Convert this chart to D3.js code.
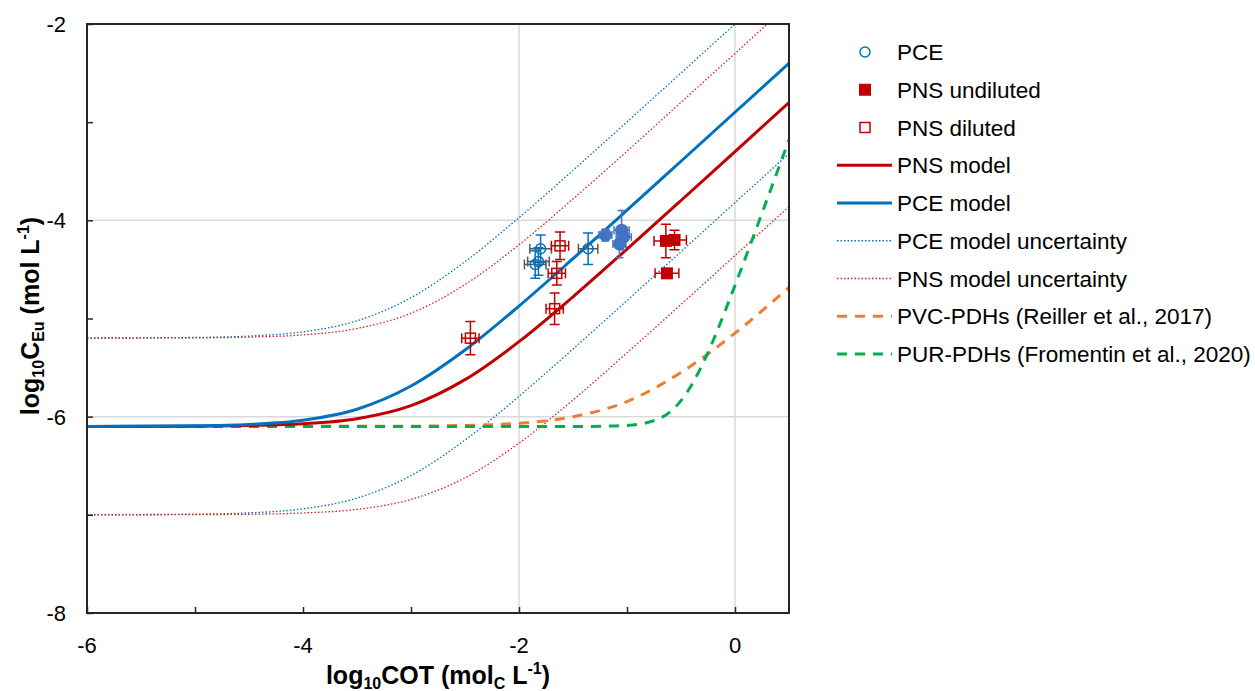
<!DOCTYPE html>
<html>
<head>
<meta charset="utf-8">
<script src="https://cdn.jsdelivr.net/npm/d3@7"></script>
<style>
  body { margin: 0; background: #fff; }
  text { font-family: "Liberation Sans", Arial, sans-serif; }
</style>
</head>
<body>
<div id="chart"></div>
<script>
// ---- data ----
const xTicks = [-6, -4, -2, 0];
const yTicks = [-8, -6, -4, -2];
const xGrid = [-2, 0];
const yGrid = [-6, -4];

// model curves (log10 COT vs log10 C_Eu)
const modelX = [-6, -5, -4.5, -4, -3.5, -3, -2.5, -2, -1.5, -1, -0.5, 0, 0.5];
const pnsModel = [-6.10, -6.097, -6.09, -6.073, -6.021, -5.888, -5.623, -5.236, -4.779, -4.293, -3.798, -3.299, -2.80];
const pceModel = [-6.10, -6.093, -6.079, -6.036, -5.924, -5.688, -5.321, -4.873, -4.391, -3.897, -3.398, -2.899, -2.40];
const pceUpper = [-5.199, -5.193, -5.179, -5.136, -5.024, -4.788, -4.421, -3.973, -3.491, -2.997, -2.499, -2.00, -1.50];
const pnsUpper = [-5.199, -5.197, -5.189, -5.167, -5.102, -4.946, -4.654, -4.249, -3.783, -3.296, -2.798, -2.30, -1.80];
const pceLower = [-6.999, -6.993, -6.98, -6.939, -6.83, -6.60, -6.238, -5.792, -5.311, -4.817, -4.319, -3.82, -3.32];
const pnsLower = [-7.00, -6.998, -6.994, -6.981, -6.944, -6.843, -6.623, -6.27, -5.83, -5.35, -4.857, -4.359, -3.86];
const pvcPdh = [-6.10, -6.10, -6.099, -6.099, -6.098, -6.097, -6.089, -6.067, -6.001, -5.846, -5.55, -5.149, -4.683];

const purX = [-6, -5, -4, -3, -2, -1.5, -1.2, -1, -0.8, -0.6, -0.5, -0.4, -0.3, -0.2, -0.1, 0, 0.1, 0.2, 0.3, 0.4, 0.5];
const purPdh = [-6.10, -6.10, -6.10, -6.10, -6.10, -6.10, -6.097, -6.089, -6.057, -5.95, -5.837, -5.675, -5.465, -5.219, -4.948, -4.663, -4.372, -4.076, -3.778, -3.479, -3.18];

// measured points: [x, y, xErr, yErr]
const pcePts = [[-1.80, -4.29, 0.10, 0.14], [-1.82, -4.42, 0.10, 0.14], [-1.85, -4.45, 0.10, 0.14], [-1.36, -4.29, 0.09, 0.16]];
const pceFilled = [[-1.20, -4.15, 0.06, 0.06], [-1.05, -4.10, 0.07, 0.2], [-1.03, -4.17, 0.07, 0.1], [-1.07, -4.24, 0.06, 0.14]];
const pnsUndiluted = [[-0.64, -4.21, 0.11, 0.17], [-0.56, -4.20, 0.11, 0.1], [-0.63, -4.54, 0.11, 0.04]];
const pnsDiluted = [[-1.62, -4.26, 0.08, 0.14], [-1.65, -4.54, 0.08, 0.12], [-1.67, -4.90, 0.08, 0.16], [-2.45, -5.20, 0.08, 0.17]];

const legendLabels = ["PCE", "PNS undiluted", "PNS diluted", "PNS model", "PCE model",
  "PCE model uncertainty", "PNS model uncertainty", "PVC-PDHs (Reiller et al., 2017)",
  "PUR-PDHs (Fromentin et al., 2020)"];

// ---- layout ----
const W = 1255, H = 691;
const plot = { left: 87, right: 789, top: 24, bottom: 613 };
const RED = "#C00000", BLUE = "#0070C0", LBLUE = "#4472C4", ORANGE = "#ED7D31", GREEN = "#00B050";
const DRED = "#D62020";

const svg = d3.select("#chart").append("svg").attr("width", W).attr("height", H);

const x = d3.scaleLinear().domain([-6, 0.5]).range([plot.left, plot.right]);
const y = d3.scaleLinear().domain([-8, -2]).range([plot.bottom, plot.top]);

svg.append("defs").append("clipPath").attr("id", "clip")
  .append("rect").attr("x", plot.left).attr("y", plot.top)
  .attr("width", plot.right - plot.left).attr("height", plot.bottom - plot.top);

// gridlines
svg.append("g").selectAll("line").data(xGrid)
  .join("line")
  .attr("x1", d => x(d)).attr("x2", d => x(d))
  .attr("y1", plot.top).attr("y2", plot.bottom)
  .attr("stroke", "#d9d9d9").attr("stroke-width", 1.5);
svg.append("g").selectAll("line").data(yGrid)
  .join("line")
  .attr("x1", plot.left).attr("x2", plot.right)
  .attr("y1", d => y(d)).attr("y2", d => y(d))
  .attr("stroke", "#d9d9d9").attr("stroke-width", 1.5);

// curves
const g = svg.append("g").attr("clip-path", "url(#clip)");
const addCurve = (xs, ys, color, width, dash) => {
  const line = d3.line().x((d, i) => x(xs[i])).y(d => y(d)).curve(d3.curveMonotoneX);
  g.append("path").datum(ys)
    .attr("d", line)
    .attr("fill", "none")
    .attr("stroke", color)
    .attr("stroke-width", width)
    .attr("stroke-dasharray", dash || null);
};
addCurve(modelX, pceUpper, BLUE, 1.3, "1.5,2");
addCurve(modelX, pnsUpper, DRED, 1.3, "1.5,2");
addCurve(modelX, pceLower, BLUE, 1.3, "1.5,2");
addCurve(modelX, pnsLower, DRED, 1.3, "1.5,2");
addCurve(modelX, pvcPdh, ORANGE, 3, "10,8");
addCurve(purX, purPdh, GREEN, 3, "10,8");
addCurve(modelX, pnsModel, RED, 3);
addCurve(modelX, pceModel, BLUE, 3);

// error bars
const errBars = (pts, vColor, hColor, cap) => {
  const eg = svg.append("g").attr("stroke-width", 1.5).attr("fill", "none");
  pts.forEach(p => {
    const cx = x(p[0]), cy = y(p[1]);
    const x0 = x(p[0] - p[2]), x1 = x(p[0] + p[2]);
    const y0 = y(p[1] - p[3]), y1 = y(p[1] + p[3]);
    eg.append("path").attr("stroke", hColor)
      .attr("d", `M${x0},${cy}H${x1}M${x0},${cy - cap}V${cy + cap}M${x1},${cy - cap}V${cy + cap}`);
    eg.append("path").attr("stroke", vColor)
      .attr("d", `M${cx},${y0}V${y1}M${cx - cap},${y0}H${cx + cap}M${cx - cap},${y1}H${cx + cap}`);
  });
};
errBars(pcePts, BLUE, "#595959", 5);
errBars(pceFilled, LBLUE, LBLUE, 4);
errBars(pnsUndiluted, RED, RED, 5);
errBars(pnsDiluted, RED, RED, 5);

// markers
svg.append("g").selectAll("circle").data(pcePts).join("circle")
  .attr("cx", d => x(d[0])).attr("cy", d => y(d[1])).attr("r", 5)
  .attr("fill", "none").attr("stroke", BLUE).attr("stroke-width", 1.5);
svg.append("g").selectAll("circle").data(pceFilled).join("circle")
  .attr("cx", d => x(d[0])).attr("cy", d => y(d[1])).attr("r", 6.5)
  .attr("fill", LBLUE);
svg.append("g").selectAll("rect").data(pnsUndiluted).join("rect")
  .attr("x", d => x(d[0]) - 6).attr("y", d => y(d[1]) - 6).attr("width", 12).attr("height", 12)
  .attr("fill", RED);
svg.append("g").selectAll("rect").data(pnsDiluted).join("rect")
  .attr("x", d => x(d[0]) - 5).attr("y", d => y(d[1]) - 5).attr("width", 10).attr("height", 10)
  .attr("fill", "none").attr("stroke", RED).attr("stroke-width", 1.5);

// frame
svg.append("rect").attr("x", plot.left).attr("y", plot.top)
  .attr("width", plot.right - plot.left).attr("height", plot.bottom - plot.top)
  .attr("fill", "none").attr("stroke", "#262626").attr("stroke-width", 2);

// axes (ticks inside)
const xAxis = d3.axisBottom(x).tickValues(d3.range(-6, 0.51, 1)).tickSize(-6).tickFormat("");
svg.append("g").attr("transform", `translate(0,${plot.bottom})`).call(xAxis)
  .call(a => a.select(".domain").remove())
  .call(a => a.selectAll("line").attr("stroke", "#262626").attr("stroke-width", 1.5));
const yAxis = d3.axisLeft(y).tickValues(d3.range(-8, -1.99, 1)).tickSize(-6).tickFormat("");
svg.append("g").attr("transform", `translate(${plot.left},0)`).call(yAxis)
  .call(a => a.select(".domain").remove())
  .call(a => a.selectAll("line").attr("stroke", "#262626").attr("stroke-width", 1.5));

svg.append("g").selectAll("text").data(xTicks).join("text")
  .attr("x", d => x(d)).attr("y", 653).attr("text-anchor", "middle")
  .attr("font-size", 22).attr("fill", "#000").text(d => d);
svg.append("g").selectAll("text").data(yTicks).join("text")
  .attr("x", 66).attr("y", d => y(d) + 8).attr("text-anchor", "end")
  .attr("font-size", 22).attr("fill", "#000").text(d => d);

// axis titles
const xt = svg.append("text").attr("x", 438).attr("y", 684).attr("text-anchor", "middle")
  .attr("font-size", 25).attr("font-weight", "bold");
xt.append("tspan").text("log");
xt.append("tspan").attr("font-size", 16).attr("dy", 5).text("10");
xt.append("tspan").attr("dy", -5).text("COT (mol");
xt.append("tspan").attr("font-size", 16).attr("dy", 5).text("C");
xt.append("tspan").attr("dy", -5).text(" L");
xt.append("tspan").attr("font-size", 16).attr("dy", -10).text("-1");
xt.append("tspan").attr("dy", 10).text(")");

const yt = svg.append("text").attr("transform", "translate(39,316) rotate(-90)")
  .attr("text-anchor", "middle").attr("font-size", 25).attr("font-weight", "bold");
yt.append("tspan").text("log");
yt.append("tspan").attr("font-size", 16).attr("dy", 5).text("10");
yt.append("tspan").attr("dy", -5).text("C");
yt.append("tspan").attr("font-size", 16).attr("dy", 5).text("Eu");
yt.append("tspan").attr("dy", -5).text(" (mol L");
yt.append("tspan").attr("font-size", 16).attr("dy", -10).text("-1");
yt.append("tspan").attr("dy", 10).text(")");

// legend
const lg = svg.append("g");
const rowY = i => 52 + i * 37.75;
legendLabels.forEach((t, i) => {
  lg.append("text").attr("x", 897).attr("y", rowY(i) + 8)
    .attr("font-size", 22.5).attr("fill", "#000").text(t);
});
lg.append("circle").attr("cx", 865).attr("cy", rowY(0)).attr("r", 5)
  .attr("fill", "none").attr("stroke", BLUE).attr("stroke-width", 1.5);
lg.append("rect").attr("x", 859).attr("y", rowY(1) - 6).attr("width", 12).attr("height", 12).attr("fill", RED);
lg.append("rect").attr("x", 860).attr("y", rowY(2) - 5).attr("width", 10).attr("height", 10)
  .attr("fill", "none").attr("stroke", RED).attr("stroke-width", 1.5);
const legLines = [[3, RED, 3, null], [4, BLUE, 3, null], [5, BLUE, 1.3, "1.5,2"],
  [6, DRED, 1.3, "1.5,2"], [7, ORANGE, 3, "10,8"], [8, GREEN, 3, "10,8"]];
legLines.forEach(([i, c, w, dsh]) => {
  lg.append("line").attr("x1", 837).attr("x2", 892).attr("y1", rowY(i)).attr("y2", rowY(i))
    .attr("stroke", c).attr("stroke-width", w).attr("stroke-dasharray", dsh);
});
</script>
</body>
</html>
